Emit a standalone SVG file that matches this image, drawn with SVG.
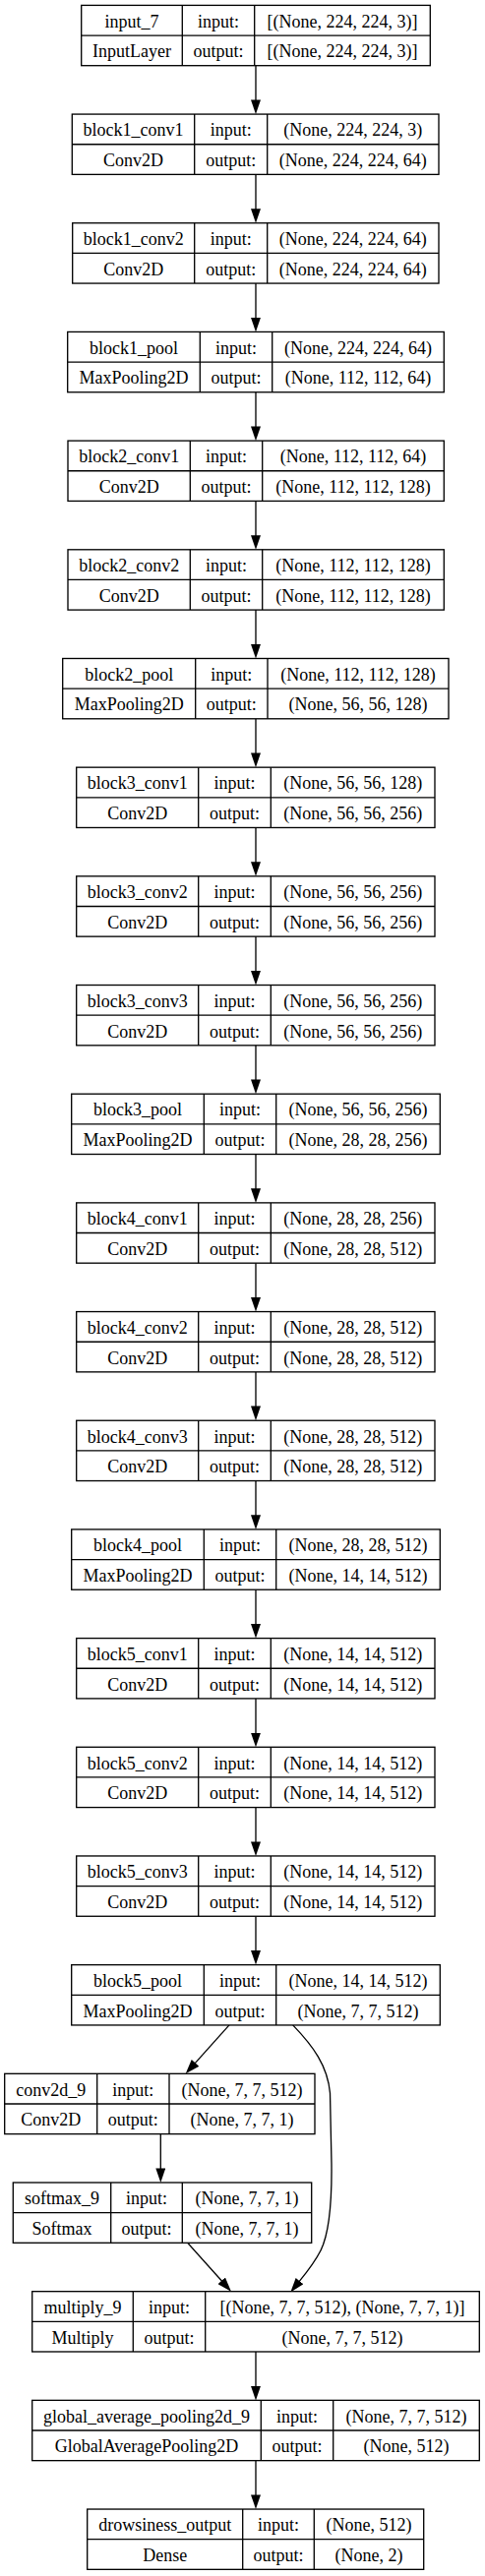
<svg xmlns="http://www.w3.org/2000/svg" width="493" height="2619" viewBox="0 0 493 2619">
<defs>
<style>
.box{fill:#fff;stroke:#000;stroke-width:1.33}
.sep{stroke:#000;stroke-width:1.33}
.t{font-family:"Liberation Serif","Times New Roman",serif;font-size:18px;fill:#000;text-anchor:middle}
.e{fill:none;stroke:#000;stroke-width:1.33}
</style>
<marker id="ah" markerUnits="userSpaceOnUse" markerWidth="15" markerHeight="10" viewBox="0 0 14.6 10" refX="1.3" refY="5" orient="auto"><path d="M0,0 L14.6,5 L0,10 z" fill="#000"/></marker>
</defs>
<rect width="493" height="2619" fill="#fff"/>
<g id="connectors">
<line class="e" marker-end="url(#ah)" x1="260" y1="66.7" x2="260" y2="102.8"/>
<line class="e" marker-end="url(#ah)" x1="260" y1="177.4" x2="260" y2="213.5"/>
<line class="e" marker-end="url(#ah)" x1="260" y1="288.1" x2="260" y2="324.1"/>
<line class="e" marker-end="url(#ah)" x1="260" y1="398.7" x2="260" y2="434.8"/>
<line class="e" marker-end="url(#ah)" x1="260" y1="509.4" x2="260" y2="545.5"/>
<line class="e" marker-end="url(#ah)" x1="260" y1="620.1" x2="260" y2="656.2"/>
<line class="e" marker-end="url(#ah)" x1="260" y1="730.8" x2="260" y2="766.9"/>
<line class="e" marker-end="url(#ah)" x1="260" y1="841.5" x2="260" y2="877.5"/>
<line class="e" marker-end="url(#ah)" x1="260" y1="952.1" x2="260" y2="988.2"/>
<line class="e" marker-end="url(#ah)" x1="260" y1="1062.8" x2="260" y2="1098.9"/>
<line class="e" marker-end="url(#ah)" x1="260" y1="1173.5" x2="260" y2="1209.6"/>
<line class="e" marker-end="url(#ah)" x1="260" y1="1284.2" x2="260" y2="1320.3"/>
<line class="e" marker-end="url(#ah)" x1="260" y1="1394.9" x2="260" y2="1430.9"/>
<line class="e" marker-end="url(#ah)" x1="260" y1="1505.5" x2="260" y2="1541.6"/>
<line class="e" marker-end="url(#ah)" x1="260" y1="1616.2" x2="260" y2="1652.3"/>
<line class="e" marker-end="url(#ah)" x1="260" y1="1726.9" x2="260" y2="1763"/>
<line class="e" marker-end="url(#ah)" x1="260" y1="1837.6" x2="260" y2="1873.7"/>
<line class="e" marker-end="url(#ah)" x1="260" y1="1948.3" x2="260" y2="1984.3"/>
<line class="e" marker-end="url(#ah)" x1="233" y1="2058.9" x2="197.6" y2="2098.4"/>
<path class="e" marker-end="url(#ah)" d="M297.7,2058.9 C318,2080 333,2100 335.5,2128 L337,2200 C337.5,2245 334,2272 326,2288 C320,2300 312,2310 303.7,2320.2"/>
<line class="e" marker-end="url(#ah)" x1="163.3" y1="2169.6" x2="163.3" y2="2205.7"/>
<line class="e" marker-end="url(#ah)" x1="190.7" y1="2280.3" x2="226.1" y2="2319.8"/>
<line class="e" marker-end="url(#ah)" x1="260" y1="2391" x2="260" y2="2427.1"/>
<line class="e" marker-end="url(#ah)" x1="260" y1="2501.7" x2="260" y2="2537.7"/>
</g>
<g id="input_7" transform="translate(0,5.4)">
<rect class="box" x="82.7" y="0" width="354.6" height="61.3"/>
<line class="sep" x1="82.7" y1="30.65" x2="437.3" y2="30.65"/>
<line class="sep" x1="185.3" y1="0" x2="185.3" y2="61.3"/>
<line class="sep" x1="258.7" y1="0" x2="258.7" y2="61.3"/>
<text class="t" x="134" y="22.3">input_7</text><text class="t" x="222" y="22.3">input:</text><text class="t" x="348" y="22.3">[(None, 224, 224, 3)]</text>
<text class="t" x="134" y="53">InputLayer</text><text class="t" x="222" y="53">output:</text><text class="t" x="348" y="53">[(None, 224, 224, 3)]</text>
</g>
<g id="block1_conv1" transform="translate(0,116.08)">
<rect class="box" x="73.3" y="0" width="372.7" height="61.3"/>
<line class="sep" x1="73.3" y1="30.65" x2="446" y2="30.65"/>
<line class="sep" x1="197.7" y1="0" x2="197.7" y2="61.3"/>
<line class="sep" x1="271.7" y1="0" x2="271.7" y2="61.3"/>
<text class="t" x="135.5" y="22.3">block1_conv1</text><text class="t" x="234.7" y="22.3">input:</text><text class="t" x="358.85" y="22.3">(None, 224, 224, 3)</text>
<text class="t" x="135.5" y="53">Conv2D</text><text class="t" x="234.7" y="53">output:</text><text class="t" x="358.85" y="53">(None, 224, 224, 64)</text>
</g>
<g id="block1_conv2" transform="translate(0,226.76)">
<rect class="box" x="73.7" y="0" width="372.3" height="61.3"/>
<line class="sep" x1="73.7" y1="30.65" x2="446" y2="30.65"/>
<line class="sep" x1="197.7" y1="0" x2="197.7" y2="61.3"/>
<line class="sep" x1="271.7" y1="0" x2="271.7" y2="61.3"/>
<text class="t" x="135.7" y="22.3">block1_conv2</text><text class="t" x="234.7" y="22.3">input:</text><text class="t" x="358.85" y="22.3">(None, 224, 224, 64)</text>
<text class="t" x="135.7" y="53">Conv2D</text><text class="t" x="234.7" y="53">output:</text><text class="t" x="358.85" y="53">(None, 224, 224, 64)</text>
</g>
<g id="block1_pool" transform="translate(0,337.44)">
<rect class="box" x="68.7" y="0" width="382.6" height="61.3"/>
<line class="sep" x1="68.7" y1="30.65" x2="451.3" y2="30.65"/>
<line class="sep" x1="203.3" y1="0" x2="203.3" y2="61.3"/>
<line class="sep" x1="276.7" y1="0" x2="276.7" y2="61.3"/>
<text class="t" x="136" y="22.3">block1_pool</text><text class="t" x="240" y="22.3">input:</text><text class="t" x="364" y="22.3">(None, 224, 224, 64)</text>
<text class="t" x="136" y="53">MaxPooling2D</text><text class="t" x="240" y="53">output:</text><text class="t" x="364" y="53">(None, 112, 112, 64)</text>
</g>
<g id="block2_conv1" transform="translate(0,448.12)">
<rect class="box" x="69" y="0" width="382.3" height="61.3"/>
<line class="sep" x1="69" y1="30.65" x2="451.3" y2="30.65"/>
<line class="sep" x1="193.3" y1="0" x2="193.3" y2="61.3"/>
<line class="sep" x1="266.7" y1="0" x2="266.7" y2="61.3"/>
<text class="t" x="131.15" y="22.3">block2_conv1</text><text class="t" x="230" y="22.3">input:</text><text class="t" x="359" y="22.3">(None, 112, 112, 64)</text>
<text class="t" x="131.15" y="53">Conv2D</text><text class="t" x="230" y="53">output:</text><text class="t" x="359" y="53">(None, 112, 112, 128)</text>
</g>
<g id="block2_conv2" transform="translate(0,558.8)">
<rect class="box" x="69" y="0" width="382.3" height="61.3"/>
<line class="sep" x1="69" y1="30.65" x2="451.3" y2="30.65"/>
<line class="sep" x1="193.3" y1="0" x2="193.3" y2="61.3"/>
<line class="sep" x1="266.7" y1="0" x2="266.7" y2="61.3"/>
<text class="t" x="131.15" y="22.3">block2_conv2</text><text class="t" x="230" y="22.3">input:</text><text class="t" x="359" y="22.3">(None, 112, 112, 128)</text>
<text class="t" x="131.15" y="53">Conv2D</text><text class="t" x="230" y="53">output:</text><text class="t" x="359" y="53">(None, 112, 112, 128)</text>
</g>
<g id="block2_pool" transform="translate(0,669.48)">
<rect class="box" x="63.7" y="0" width="392.3" height="61.3"/>
<line class="sep" x1="63.7" y1="30.65" x2="456" y2="30.65"/>
<line class="sep" x1="198.7" y1="0" x2="198.7" y2="61.3"/>
<line class="sep" x1="272" y1="0" x2="272" y2="61.3"/>
<text class="t" x="131.2" y="22.3">block2_pool</text><text class="t" x="235.35" y="22.3">input:</text><text class="t" x="364" y="22.3">(None, 112, 112, 128)</text>
<text class="t" x="131.2" y="53">MaxPooling2D</text><text class="t" x="235.35" y="53">output:</text><text class="t" x="364" y="53">(None, 56, 56, 128)</text>
</g>
<g id="block3_conv1" transform="translate(0,780.16)">
<rect class="box" x="77.7" y="0" width="364.3" height="61.3"/>
<line class="sep" x1="77.7" y1="30.65" x2="442" y2="30.65"/>
<line class="sep" x1="201.7" y1="0" x2="201.7" y2="61.3"/>
<line class="sep" x1="275.3" y1="0" x2="275.3" y2="61.3"/>
<text class="t" x="139.7" y="22.3">block3_conv1</text><text class="t" x="238.5" y="22.3">input:</text><text class="t" x="358.65" y="22.3">(None, 56, 56, 128)</text>
<text class="t" x="139.7" y="53">Conv2D</text><text class="t" x="238.5" y="53">output:</text><text class="t" x="358.65" y="53">(None, 56, 56, 256)</text>
</g>
<g id="block3_conv2" transform="translate(0,890.84)">
<rect class="box" x="77.7" y="0" width="364.3" height="61.3"/>
<line class="sep" x1="77.7" y1="30.65" x2="442" y2="30.65"/>
<line class="sep" x1="201.7" y1="0" x2="201.7" y2="61.3"/>
<line class="sep" x1="275.3" y1="0" x2="275.3" y2="61.3"/>
<text class="t" x="139.7" y="22.3">block3_conv2</text><text class="t" x="238.5" y="22.3">input:</text><text class="t" x="358.65" y="22.3">(None, 56, 56, 256)</text>
<text class="t" x="139.7" y="53">Conv2D</text><text class="t" x="238.5" y="53">output:</text><text class="t" x="358.65" y="53">(None, 56, 56, 256)</text>
</g>
<g id="block3_conv3" transform="translate(0,1001.52)">
<rect class="box" x="77.7" y="0" width="364.3" height="61.3"/>
<line class="sep" x1="77.7" y1="30.65" x2="442" y2="30.65"/>
<line class="sep" x1="201.7" y1="0" x2="201.7" y2="61.3"/>
<line class="sep" x1="275.3" y1="0" x2="275.3" y2="61.3"/>
<text class="t" x="139.7" y="22.3">block3_conv3</text><text class="t" x="238.5" y="22.3">input:</text><text class="t" x="358.65" y="22.3">(None, 56, 56, 256)</text>
<text class="t" x="139.7" y="53">Conv2D</text><text class="t" x="238.5" y="53">output:</text><text class="t" x="358.65" y="53">(None, 56, 56, 256)</text>
</g>
<g id="block3_pool" transform="translate(0,1112.2)">
<rect class="box" x="72.7" y="0" width="374.6" height="61.3"/>
<line class="sep" x1="72.7" y1="30.65" x2="447.3" y2="30.65"/>
<line class="sep" x1="207.3" y1="0" x2="207.3" y2="61.3"/>
<line class="sep" x1="280.7" y1="0" x2="280.7" y2="61.3"/>
<text class="t" x="140" y="22.3">block3_pool</text><text class="t" x="244" y="22.3">input:</text><text class="t" x="364" y="22.3">(None, 56, 56, 256)</text>
<text class="t" x="140" y="53">MaxPooling2D</text><text class="t" x="244" y="53">output:</text><text class="t" x="364" y="53">(None, 28, 28, 256)</text>
</g>
<g id="block4_conv1" transform="translate(0,1222.88)">
<rect class="box" x="77.7" y="0" width="364.3" height="61.3"/>
<line class="sep" x1="77.7" y1="30.65" x2="442" y2="30.65"/>
<line class="sep" x1="201.7" y1="0" x2="201.7" y2="61.3"/>
<line class="sep" x1="275.3" y1="0" x2="275.3" y2="61.3"/>
<text class="t" x="139.7" y="22.3">block4_conv1</text><text class="t" x="238.5" y="22.3">input:</text><text class="t" x="358.65" y="22.3">(None, 28, 28, 256)</text>
<text class="t" x="139.7" y="53">Conv2D</text><text class="t" x="238.5" y="53">output:</text><text class="t" x="358.65" y="53">(None, 28, 28, 512)</text>
</g>
<g id="block4_conv2" transform="translate(0,1333.56)">
<rect class="box" x="77.7" y="0" width="364.3" height="61.3"/>
<line class="sep" x1="77.7" y1="30.65" x2="442" y2="30.65"/>
<line class="sep" x1="201.7" y1="0" x2="201.7" y2="61.3"/>
<line class="sep" x1="275.3" y1="0" x2="275.3" y2="61.3"/>
<text class="t" x="139.7" y="22.3">block4_conv2</text><text class="t" x="238.5" y="22.3">input:</text><text class="t" x="358.65" y="22.3">(None, 28, 28, 512)</text>
<text class="t" x="139.7" y="53">Conv2D</text><text class="t" x="238.5" y="53">output:</text><text class="t" x="358.65" y="53">(None, 28, 28, 512)</text>
</g>
<g id="block4_conv3" transform="translate(0,1444.24)">
<rect class="box" x="77.7" y="0" width="364.3" height="61.3"/>
<line class="sep" x1="77.7" y1="30.65" x2="442" y2="30.65"/>
<line class="sep" x1="201.7" y1="0" x2="201.7" y2="61.3"/>
<line class="sep" x1="275.3" y1="0" x2="275.3" y2="61.3"/>
<text class="t" x="139.7" y="22.3">block4_conv3</text><text class="t" x="238.5" y="22.3">input:</text><text class="t" x="358.65" y="22.3">(None, 28, 28, 512)</text>
<text class="t" x="139.7" y="53">Conv2D</text><text class="t" x="238.5" y="53">output:</text><text class="t" x="358.65" y="53">(None, 28, 28, 512)</text>
</g>
<g id="block4_pool" transform="translate(0,1554.92)">
<rect class="box" x="72.7" y="0" width="374.6" height="61.3"/>
<line class="sep" x1="72.7" y1="30.65" x2="447.3" y2="30.65"/>
<line class="sep" x1="207.3" y1="0" x2="207.3" y2="61.3"/>
<line class="sep" x1="280.7" y1="0" x2="280.7" y2="61.3"/>
<text class="t" x="140" y="22.3">block4_pool</text><text class="t" x="244" y="22.3">input:</text><text class="t" x="364" y="22.3">(None, 28, 28, 512)</text>
<text class="t" x="140" y="53">MaxPooling2D</text><text class="t" x="244" y="53">output:</text><text class="t" x="364" y="53">(None, 14, 14, 512)</text>
</g>
<g id="block5_conv1" transform="translate(0,1665.6)">
<rect class="box" x="77.7" y="0" width="364.3" height="61.3"/>
<line class="sep" x1="77.7" y1="30.65" x2="442" y2="30.65"/>
<line class="sep" x1="201.7" y1="0" x2="201.7" y2="61.3"/>
<line class="sep" x1="275.3" y1="0" x2="275.3" y2="61.3"/>
<text class="t" x="139.7" y="22.3">block5_conv1</text><text class="t" x="238.5" y="22.3">input:</text><text class="t" x="358.65" y="22.3">(None, 14, 14, 512)</text>
<text class="t" x="139.7" y="53">Conv2D</text><text class="t" x="238.5" y="53">output:</text><text class="t" x="358.65" y="53">(None, 14, 14, 512)</text>
</g>
<g id="block5_conv2" transform="translate(0,1776.28)">
<rect class="box" x="77.7" y="0" width="364.3" height="61.3"/>
<line class="sep" x1="77.7" y1="30.65" x2="442" y2="30.65"/>
<line class="sep" x1="201.7" y1="0" x2="201.7" y2="61.3"/>
<line class="sep" x1="275.3" y1="0" x2="275.3" y2="61.3"/>
<text class="t" x="139.7" y="22.3">block5_conv2</text><text class="t" x="238.5" y="22.3">input:</text><text class="t" x="358.65" y="22.3">(None, 14, 14, 512)</text>
<text class="t" x="139.7" y="53">Conv2D</text><text class="t" x="238.5" y="53">output:</text><text class="t" x="358.65" y="53">(None, 14, 14, 512)</text>
</g>
<g id="block5_conv3" transform="translate(0,1886.96)">
<rect class="box" x="77.7" y="0" width="364.3" height="61.3"/>
<line class="sep" x1="77.7" y1="30.65" x2="442" y2="30.65"/>
<line class="sep" x1="201.7" y1="0" x2="201.7" y2="61.3"/>
<line class="sep" x1="275.3" y1="0" x2="275.3" y2="61.3"/>
<text class="t" x="139.7" y="22.3">block5_conv3</text><text class="t" x="238.5" y="22.3">input:</text><text class="t" x="358.65" y="22.3">(None, 14, 14, 512)</text>
<text class="t" x="139.7" y="53">Conv2D</text><text class="t" x="238.5" y="53">output:</text><text class="t" x="358.65" y="53">(None, 14, 14, 512)</text>
</g>
<g id="block5_pool" transform="translate(0,1997.64)">
<rect class="box" x="72.7" y="0" width="374.6" height="61.3"/>
<line class="sep" x1="72.7" y1="30.65" x2="447.3" y2="30.65"/>
<line class="sep" x1="207.3" y1="0" x2="207.3" y2="61.3"/>
<line class="sep" x1="280.7" y1="0" x2="280.7" y2="61.3"/>
<text class="t" x="140" y="22.3">block5_pool</text><text class="t" x="244" y="22.3">input:</text><text class="t" x="364" y="22.3">(None, 14, 14, 512)</text>
<text class="t" x="140" y="53">MaxPooling2D</text><text class="t" x="244" y="53">output:</text><text class="t" x="364" y="53">(None, 7, 7, 512)</text>
</g>
<g id="conv2d_9" transform="translate(0,2108.32)">
<rect class="box" x="4.7" y="0" width="315.3" height="61.3"/>
<line class="sep" x1="4.7" y1="30.65" x2="320" y2="30.65"/>
<line class="sep" x1="98.7" y1="0" x2="98.7" y2="61.3"/>
<line class="sep" x1="172" y1="0" x2="172" y2="61.3"/>
<text class="t" x="51.7" y="22.3">conv2d_9</text><text class="t" x="135.35" y="22.3">input:</text><text class="t" x="246" y="22.3">(None, 7, 7, 512)</text>
<text class="t" x="51.7" y="53">Conv2D</text><text class="t" x="135.35" y="53">output:</text><text class="t" x="246" y="53">(None, 7, 7, 1)</text>
</g>
<g id="softmax_9" transform="translate(0,2219)">
<rect class="box" x="13.3" y="0" width="303.4" height="61.3"/>
<line class="sep" x1="13.3" y1="30.65" x2="316.7" y2="30.65"/>
<line class="sep" x1="112.7" y1="0" x2="112.7" y2="61.3"/>
<line class="sep" x1="185.3" y1="0" x2="185.3" y2="61.3"/>
<text class="t" x="63" y="22.3">softmax_9</text><text class="t" x="149" y="22.3">input:</text><text class="t" x="251" y="22.3">(None, 7, 7, 1)</text>
<text class="t" x="63" y="53">Softmax</text><text class="t" x="149" y="53">output:</text><text class="t" x="251" y="53">(None, 7, 7, 1)</text>
</g>
<g id="multiply_9" transform="translate(0,2329.68)">
<rect class="box" x="32.7" y="0" width="454.6" height="61.3"/>
<line class="sep" x1="32.7" y1="30.65" x2="487.3" y2="30.65"/>
<line class="sep" x1="135.3" y1="0" x2="135.3" y2="61.3"/>
<line class="sep" x1="208.7" y1="0" x2="208.7" y2="61.3"/>
<text class="t" x="84" y="22.3">multiply_9</text><text class="t" x="172" y="22.3">input:</text><text class="t" x="348" y="22.3">[(None, 7, 7, 512), (None, 7, 7, 1)]</text>
<text class="t" x="84" y="53">Multiply</text><text class="t" x="172" y="53">output:</text><text class="t" x="348" y="53">(None, 7, 7, 512)</text>
</g>
<g id="global_average_pooling2d_9" transform="translate(0,2440.36)">
<rect class="box" x="32.7" y="0" width="454.6" height="61.3"/>
<line class="sep" x1="32.7" y1="30.65" x2="487.3" y2="30.65"/>
<line class="sep" x1="265.3" y1="0" x2="265.3" y2="61.3"/>
<line class="sep" x1="338.7" y1="0" x2="338.7" y2="61.3"/>
<text class="t" x="149" y="22.3">global_average_pooling2d_9</text><text class="t" x="302" y="22.3">input:</text><text class="t" x="413" y="22.3">(None, 7, 7, 512)</text>
<text class="t" x="149" y="53">GlobalAveragePooling2D</text><text class="t" x="302" y="53">output:</text><text class="t" x="413" y="53">(None, 512)</text>
</g>
<g id="drowsiness_output" transform="translate(0,2551.04)">
<rect class="box" x="88.7" y="0" width="342" height="61.3"/>
<line class="sep" x1="88.7" y1="30.65" x2="430.7" y2="30.65"/>
<line class="sep" x1="246.7" y1="0" x2="246.7" y2="61.3"/>
<line class="sep" x1="319.3" y1="0" x2="319.3" y2="61.3"/>
<text class="t" x="167.7" y="22.3">drowsiness_output</text><text class="t" x="283" y="22.3">input:</text><text class="t" x="375" y="22.3">(None, 512)</text>
<text class="t" x="167.7" y="53">Dense</text><text class="t" x="283" y="53">output:</text><text class="t" x="375" y="53">(None, 2)</text>
</g>
</svg>
